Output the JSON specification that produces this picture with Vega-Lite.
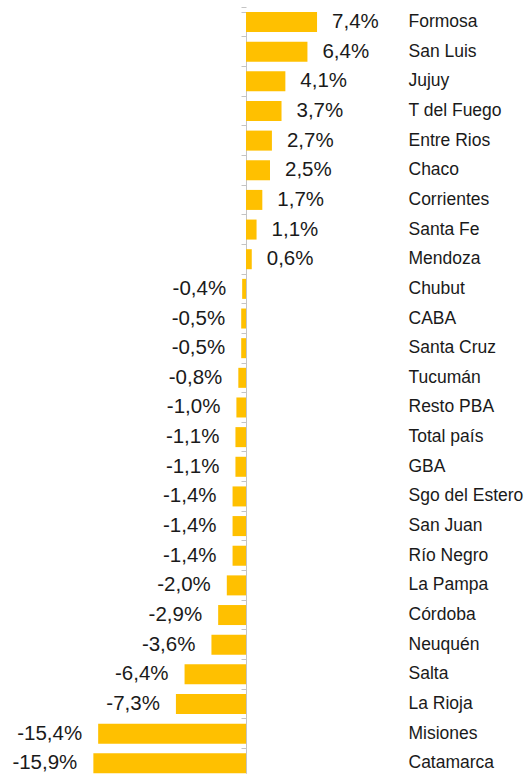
{
  "$schema": "https://vega.github.io/schema/vega-lite/v6.json",
  "width": 307.2,
  "height": 761.3,
  "autosize": {"type": "none"},
  "padding": {"left": 92.4, "top": 12, "right": 128.4, "bottom": 0.7},
  "config": {
    "locale": {"number": {"decimal": ",", "thousands": ".", "grouping": [3], "currency": ["$", ""], "minus": "-"}},
    "view": {"stroke": null},
    "font": "Liberation Sans"
  },
  "data": {
    "values": [
      {"provincia": "Formosa", "v": 0.074},
      {"provincia": "San Luis", "v": 0.064},
      {"provincia": "Jujuy", "v": 0.041},
      {"provincia": "T del Fuego", "v": 0.037},
      {"provincia": "Entre Rios", "v": 0.027},
      {"provincia": "Chaco", "v": 0.025},
      {"provincia": "Corrientes", "v": 0.017},
      {"provincia": "Santa Fe", "v": 0.011},
      {"provincia": "Mendoza", "v": 0.006},
      {"provincia": "Chubut", "v": -0.004},
      {"provincia": "CABA", "v": -0.005},
      {"provincia": "Santa Cruz", "v": -0.005},
      {"provincia": "Tucumán", "v": -0.008},
      {"provincia": "Resto PBA", "v": -0.010},
      {"provincia": "Total país", "v": -0.011},
      {"provincia": "GBA", "v": -0.011},
      {"provincia": "Sgo del Estero", "v": -0.014},
      {"provincia": "San Juan", "v": -0.014},
      {"provincia": "Río Negro", "v": -0.014},
      {"provincia": "La Pampa", "v": -0.020},
      {"provincia": "Córdoba", "v": -0.029},
      {"provincia": "Neuquén", "v": -0.036},
      {"provincia": "Salta", "v": -0.064},
      {"provincia": "La Rioja", "v": -0.073},
      {"provincia": "Misiones", "v": -0.154},
      {"provincia": "Catamarca", "v": -0.159}
    ]
  },
  "layer": [
    {
      "mark": {"type": "bar", "color": "#FFC000"},
      "encoding": {
        "y": {
          "field": "provincia", "type": "nominal", "sort": null,
          "scale": {"paddingInner": 0.325, "paddingOuter": 0},
          "axis": {"orient": "left", "labels": false, "title": null, "offset": -153.6,
                   "domainColor": "#c4c4c4", "tickColor": "#c4c4c4", "tickSize": 5,
                   "bandPosition": -0.24, "tickExtra": true}
        },
        "x": {"field": "v", "type": "quantitative", "scale": {"domain": [-0.16, 0.16], "nice": false, "zero": false}, "axis": null}
      }
    },
    {
      "mark": {"type": "text", "fontSize": 20.5, "color": "#1a1a1a", "baseline": "middle",
               "align": {"expr": "datum.v < 0 ? 'right' : 'left'"},
               "dx": {"expr": "datum.v < 0 ? -16 : 15"}},
      "encoding": {
        "y": {
          "field": "provincia", "type": "nominal", "sort": null,
          "axis": {"orient": "right", "title": null, "ticks": false, "domain": false,
                   "labelPadding": 8.4, "labelFontSize": 17.5, "labelColor": "#1a1a1a",
                   "labelFont": "Liberation Sans", "labelLimit": 200}
        },
        "x": {"field": "v", "type": "quantitative"},
        "text": {"field": "v", "type": "quantitative", "format": ".1%"}
      }
    }
  ],
  "resolve": {"axis": {"y": "independent"}}
}
